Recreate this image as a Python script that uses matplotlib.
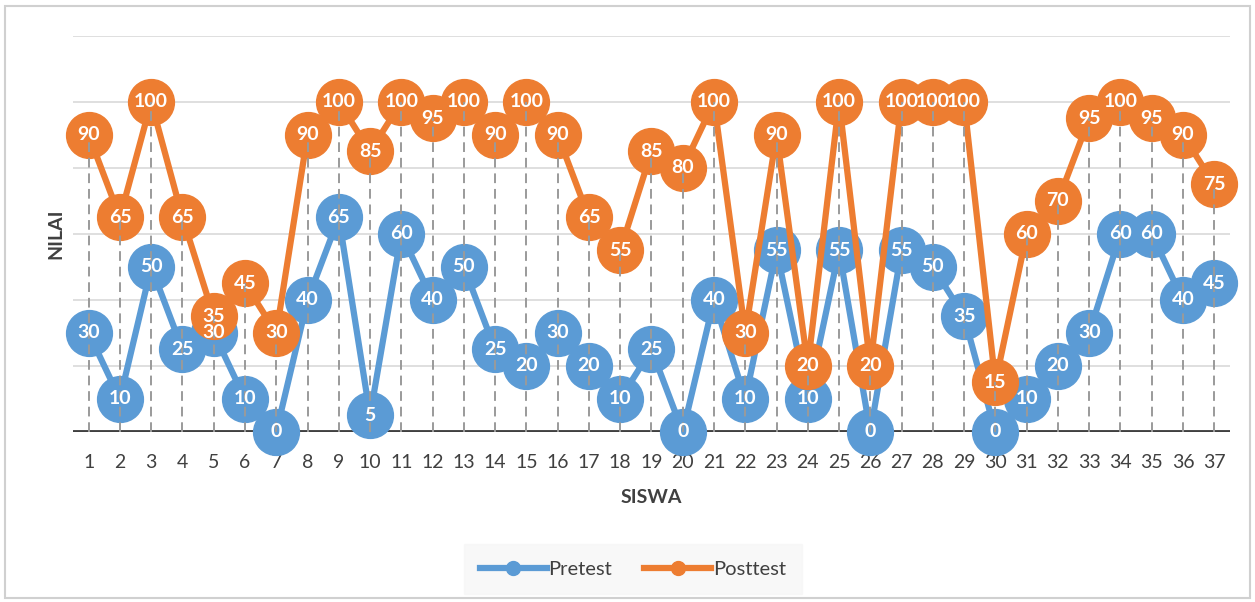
import numpy as np
import matplotlib.pyplot as plt
from matplotlib.patches import Rectangle

plt.rcParams['font.family'] = ['Lato', 'DejaVu Sans']

siswa = list(range(1, 38))
pretest = [30, 10, 50, 25, 30, 10, 0, 40, 65, 5, 60, 40, 50, 25, 20, 30, 20, 10, 25, 0,
           40, 10, 55, 10, 55, 0, 55, 50, 35, 0, 10, 20, 30, 60, 60, 40, 45]
posttest = [90, 65, 100, 65, 35, 45, 30, 90, 100, 85, 100, 95, 100, 90, 100, 90, 65, 55, 85, 80,
            100, 30, 90, 20, 100, 20, 100, 100, 100, 15, 60, 70, 95, 100, 95, 90, 75]

blue = '#5B9BD5'
orange = '#ED7D31'

fig = plt.figure(figsize=(12.55, 6.02), dpi=100)
ax = fig.add_axes([0.0582, 0.2824, 0.9218, 0.6578])

# outer chart border
fig.patches.append(Rectangle((5 / 1255, 4 / 602), 1245 / 1255, 592 / 602,
                             transform=fig.transFigure, fill=False,
                             edgecolor='#d0d0d0', linewidth=1.5))

x = np.array(siswa)
top = np.maximum(pretest, posttest)

ax.set_xlim(0.5, 37.5)
ax.set_ylim(0, 120)
ax.set_yticks([0, 20, 40, 60, 80, 100, 120])
ax.yaxis.grid(True, color='#d9d9d9', linewidth=1.2)
ax.set_axisbelow(True)
ax.set_yticklabels([])
ax.tick_params(axis='y', length=0)

# drop lines
ax.vlines(x, 0, top, colors='#9a9a9a', linestyles=(0, (5, 3)), linewidth=1.4, zorder=5)

ax.plot(x, pretest, color=blue, linewidth=4.5, marker='o', markersize=33,
        label='Pretest', zorder=3, clip_on=False)
ax.plot(x, posttest, color=orange, linewidth=4.5, marker='o', markersize=33,
        label='Posttest', zorder=4, clip_on=False)

for xi, v in zip(x, pretest):
    ax.text(xi, v, str(v), ha='center', va='center', color='white',
            fontsize=14, fontweight='bold', zorder=6)
for xi, v in zip(x, posttest):
    ax.text(xi, v, str(v), ha='center', va='center', color='white',
            fontsize=14, fontweight='bold', zorder=6)

ax.axhline(0, color='#404040', linewidth=3.5, zorder=2)

for s in ax.spines.values():
    s.set_visible(False)

ax.set_xticks(x)
ax.set_xticklabels([str(i) for i in siswa], fontsize=14, color='#404040')
ax.tick_params(axis='x', length=0, pad=16)

ax.set_xlabel('SISWA', fontsize=14, fontweight='bold', color='#404040', labelpad=13)
ax.set_ylabel('NILAI', fontsize=14, fontweight='bold', color='#404040', labelpad=3)

leg = fig.legend(handles=ax.get_lines()[:2], labels=['Pretest', 'Posttest'],
                 loc='center', bbox_to_anchor=(633 / 1255, 1 - 569 / 602), ncol=2,
                 fontsize=14.5, frameon=True, fancybox=False, handlelength=3.3,
                 columnspacing=1.6, handletextpad=0.1, borderpad=0.8)
leg.get_frame().set_facecolor('#f7f7f7')
leg.get_frame().set_edgecolor('#f7f7f7')
for h in leg.legend_handles:
    h.set_markersize(10)
    h.set_linewidth(4.5)
for t in leg.get_texts():
    t.set_color('#404040')

fig.savefig('out.png', dpi=100)
